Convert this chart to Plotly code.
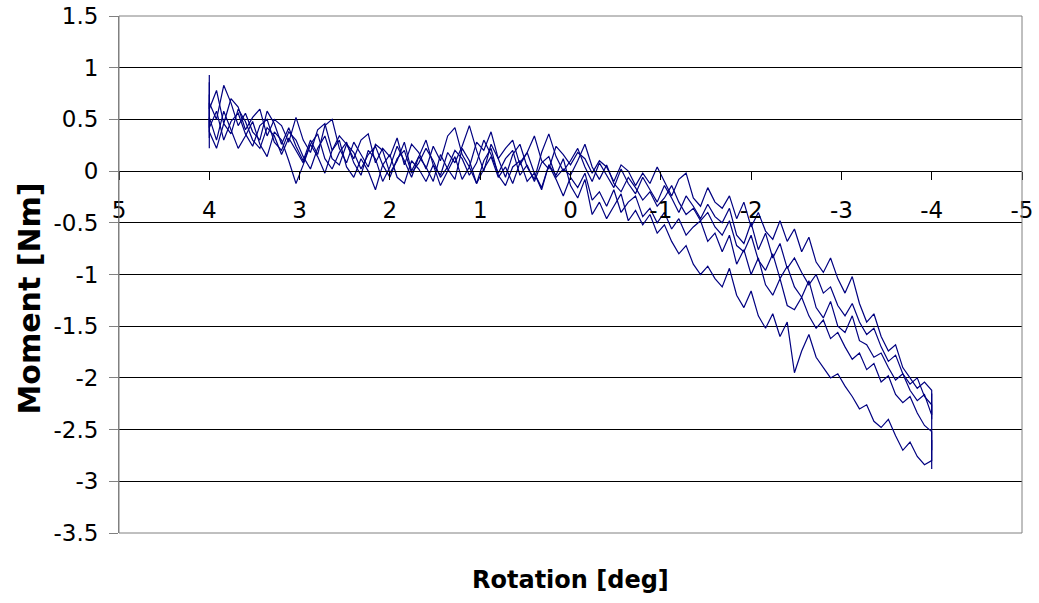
import plotly.graph_objects as go

# Rotation samples [deg], shared by all loading runs (turnaround points repeated at +/-4)
ROTATION = [
    4.00, 4.00,
    3.92, 3.84, 3.76, 3.68, 3.60, 3.52, 3.44, 3.36, 3.28, 3.20,
    3.12, 3.04, 2.96, 2.88, 2.80, 2.72, 2.64, 2.56, 2.48, 2.40,
    2.32, 2.24, 2.16, 2.08, 2.00, 1.92, 1.84, 1.76, 1.68, 1.60,
    1.52, 1.44, 1.36, 1.28, 1.20, 1.12, 1.04, 0.96, 0.88, 0.80,
    0.72, 0.64, 0.56, 0.48, 0.40, 0.32, 0.24, 0.16, 0.08, 0.00,
    -0.08, -0.16, -0.24, -0.32, -0.40, -0.48, -0.56, -0.64, -0.72, -0.80,
    -0.88, -0.96, -1.04, -1.12, -1.20, -1.28, -1.36, -1.44, -1.52, -1.60,
    -1.68, -1.76, -1.84, -1.92, -2.00, -2.08, -2.16, -2.24, -2.32, -2.40,
    -2.48, -2.56, -2.64, -2.72, -2.80, -2.88, -2.96, -3.04, -3.12, -3.20,
    -3.28, -3.36, -3.44, -3.52, -3.60, -3.68, -3.76, -3.84, -3.92, -4.00,
    -4.00,
]

# Moment [Nm] for each run
MOMENT_RUN1 = [
    0.93, 0.60,
    0.78, 0.46, 0.70, 0.62, 0.40, 0.52, 0.60, 0.34, 0.50, 0.44,
    0.28, 0.52, 0.30, 0.18, 0.40, 0.46, 0.20, 0.34, 0.26, 0.12,
    0.30, 0.36, 0.08, 0.22, 0.14, 0.32, 0.06, 0.26, 0.18, 0.02,
    0.24, 0.10, 0.34, 0.42, 0.16, 0.04, 0.28, 0.20, 0.38, 0.12,
    0.22, 0.30, 0.06, 0.18, 0.34, 0.10, 0.02, 0.24, 0.16, 0.06,
    0.18, 0.12, -0.02, 0.10, 0.04, -0.10, 0.06, 0.00, -0.14, -0.02,
    -0.12, 0.04, -0.10, -0.24, -0.08, -0.02, -0.26, -0.34, -0.16, -0.30,
    -0.36, -0.24, -0.46, -0.30, -0.54, -0.40, -0.58, -0.66, -0.48, -0.68,
    -0.56, -0.78, -0.64, -0.88, -0.98, -0.84, -1.04, -1.18, -1.02, -1.28,
    -1.46, -1.38, -1.60, -1.74, -1.68, -1.90, -2.00, -2.10, -2.04, -2.12,
    -2.40,
]

MOMENT_RUN2 = [
    0.32, 0.66,
    0.50, 0.83, 0.66, 0.44, 0.56, 0.38, 0.30, 0.58, 0.46, 0.26,
    0.42, 0.24, 0.10, 0.30, 0.16, 0.44, 0.50, 0.22, 0.08, 0.28,
    0.16, 0.04, 0.26, 0.20, -0.02, 0.10, 0.28, 0.00, 0.14, 0.30,
    0.06, -0.04, 0.18, 0.08, 0.24, 0.44, 0.20, 0.00, 0.26, 0.12,
    -0.06, 0.16, 0.26, 0.04, -0.08, 0.18, 0.36, 0.14, 0.00, 0.10,
    0.22, 0.04, -0.10, 0.08, -0.04, -0.16, 0.02, -0.12, -0.22, -0.06,
    -0.18, -0.30, -0.14, -0.26, -0.40, -0.24, -0.34, -0.46, -0.32, -0.44,
    -0.50, -0.36, -0.62, -0.70, -0.50, -0.76, -0.60, -0.84, -0.70, -0.94,
    -0.84, -0.98, -1.10, -1.00, -1.18, -1.12, -1.30, -1.40, -1.28, -1.46,
    -1.58, -1.52, -1.70, -1.84, -1.78, -1.96, -2.06, -2.00, -2.18, -2.26,
    -2.70,
]

MOMENT_RUN3 = [
    0.74, 0.42,
    0.58, 0.30, 0.48, 0.56, 0.36, 0.24, 0.44, 0.50, 0.28, 0.20,
    0.38, 0.30, 0.14, 0.02, 0.22, 0.34, 0.12, 0.06, 0.26, 0.18,
    0.02, 0.16, 0.24, 0.06, -0.06, 0.12, 0.20, -0.02, 0.08, 0.22,
    0.10, -0.06, 0.04, 0.20, 0.12, -0.04, 0.08, 0.30, 0.16, -0.02,
    0.12, 0.20, -0.04, 0.06, -0.10, 0.08, 0.14, -0.06, 0.02, -0.04,
    0.10, 0.26, 0.04, -0.08, 0.06, -0.12, -0.20, -0.06, -0.16, -0.28,
    -0.20, -0.34, -0.26, -0.14, -0.30, -0.42, -0.36, -0.48, -0.40, -0.54,
    -0.62, -0.48, -0.72, -0.78, -0.62, -0.86, -0.96, -0.80, -1.04, -0.92,
    -1.12, -1.22, -1.06, -1.32, -1.42, -1.26, -1.50, -1.56, -1.40, -1.64,
    -1.68, -1.80, -1.76, -1.90, -2.02, -1.96, -2.12, -2.22, -2.16, -2.36,
    -2.15,
]

MOMENT_RUN4 = [
    0.22, 0.52,
    0.30, 0.58, 0.40, 0.22, 0.34, 0.48, 0.26, 0.14, 0.38, 0.30,
    0.10, -0.12, 0.06, 0.26, 0.14, -0.02, 0.20, 0.30, 0.04, -0.06,
    0.12, 0.00, -0.18, 0.06, 0.16, -0.06, -0.12, 0.10, 0.02, -0.10,
    0.06, -0.14, 0.00, 0.14, -0.08, 0.04, -0.12, 0.10, 0.22, -0.04,
    -0.14, 0.04, 0.10, -0.10, -0.02, -0.18, 0.06, -0.08, -0.24, -0.06,
    -0.16, -0.02, -0.28, -0.20, -0.34, -0.18, -0.40, -0.30, -0.24, -0.44,
    -0.36, -0.50, -0.40, -0.56, -0.46, -0.62, -0.54, -0.48, -0.68, -0.60,
    -0.78, -0.62, -0.90, -0.76, -1.00, -0.84, -1.10, -1.20, -1.04, -1.30,
    -1.34, -1.22, -1.40, -1.52, -1.44, -1.62, -1.56, -1.70, -1.82, -1.76,
    -1.92, -1.86, -2.04, -1.98, -2.16, -2.24, -2.18, -2.34, -2.46, -2.52,
    -2.88,
]

MOMENT_RUN5 = [
    0.86, 0.38,
    0.22, 0.46, 0.36, 0.60, 0.48, 0.30, 0.22, 0.42, 0.34, 0.16,
    0.32, 0.20, 0.08, 0.26, 0.36, 0.12, 0.02, 0.18, 0.28, 0.08,
    -0.04, 0.20, 0.12, -0.10, 0.04, 0.24, 0.10, -0.06, 0.14, 0.04,
    -0.10, 0.16, 0.02, -0.08, 0.22, 0.10, -0.12, 0.02, 0.14, -0.06,
    0.04, -0.12, 0.08, 0.18, -0.02, -0.16, 0.06, -0.04, 0.12, -0.14,
    -0.26, -0.08, -0.42, -0.30, -0.46, -0.34, -0.22, -0.48, -0.38, -0.52,
    -0.42, -0.60, -0.52, -0.68, -0.80, -0.72, -0.90, -1.00, -0.92, -1.04,
    -1.12, -0.94, -1.20, -1.32, -1.16, -1.40, -1.52, -1.38, -1.60, -1.46,
    -1.95, -1.74, -1.58, -1.80, -1.90, -2.00, -1.96, -2.08, -2.18, -2.30,
    -2.26, -2.42, -2.48, -2.40, -2.56, -2.70, -2.62, -2.76, -2.84, -2.80,
    -2.60,
]

RUNS = [MOMENT_RUN1, MOMENT_RUN2, MOMENT_RUN3, MOMENT_RUN4, MOMENT_RUN5]

X_TICKS = [5, 4, 3, 2, 1, 0, -1, -2, -3, -4, -5]
X_TICK_TEXT = ["5", "4", "3", "2", "1", "0", "-1", "-2", "-3", "-4", "-5"]
Y_TICKS = [1.5, 1, 0.5, 0, -0.5, -1, -1.5, -2, -2.5, -3, -3.5]
Y_TICK_TEXT = ["1.5", "1", "0.5", "0", "-0.5", "-1", "-1.5", "-2", "-2.5", "-3", "-3.5"]

LINE_COLOR = "#000080"
FONT = "DejaVu Sans"

fig = go.Figure()
for run in RUNS:
    fig.add_trace(go.Scatter(
        x=ROTATION, y=run, mode="lines",
        line=dict(color=LINE_COLOR, width=1.2),
        showlegend=False, hoverinfo="skip",
    ))

Y_MIN, Y_MAX = -3.5, 1.5
zero_pos = (0 - Y_MIN) / (Y_MAX - Y_MIN)

fig.update_layout(
    width=1039, height=603,
    margin=dict(l=119, r=17, t=16, b=70),
    paper_bgcolor="white", plot_bgcolor="white",
    font=dict(family=FONT, color="black"),
    xaxis=dict(
        range=[5, -5], tickmode="array", tickvals=X_TICKS, ticktext=X_TICK_TEXT,
        anchor="free", position=zero_pos, automargin=False,
        showline=True, linecolor="black", linewidth=1,
        ticks="outside", ticklen=8, tickcolor="black", tickwidth=1,
        ticklabelstandoff=10,
        showgrid=False, zeroline=False,
        tickfont=dict(family=FONT, size=23, color="black"),
    ),
    yaxis=dict(
        range=[Y_MIN, Y_MAX], tickmode="array", tickvals=Y_TICKS, ticktext=Y_TICK_TEXT,
        automargin=False,
        showline=True, linecolor="#808080", linewidth=1,
        ticks="outside", ticklen=9, tickcolor="#808080", tickwidth=1,
        ticklabelstandoff=6,
        showgrid=True, gridcolor="black", gridwidth=1, zeroline=False,
        tickfont=dict(family=FONT, size=23, color="black"),
    ),
    shapes=[dict(
        type="rect", xref="paper", yref="paper", x0=0, x1=1, y0=0, y1=1,
        line=dict(color="#808080", width=1), layer="above",
    )],
    annotations=[
        dict(text="<b>Rotation [deg]</b>", xref="paper", yref="paper",
             x=0.5, y=-0.091, xanchor="center", yanchor="middle",
             showarrow=False, font=dict(family=FONT, size=24, color="black")),
        dict(text="<b>Moment [Nm]</b>", xref="paper", yref="paper",
             x=-0.1002, y=0.4526, xanchor="center", yanchor="middle", textangle=-90,
             showarrow=False, font=dict(family=FONT, size=30, color="black")),
    ],
)

fig.write_html("out.html")
